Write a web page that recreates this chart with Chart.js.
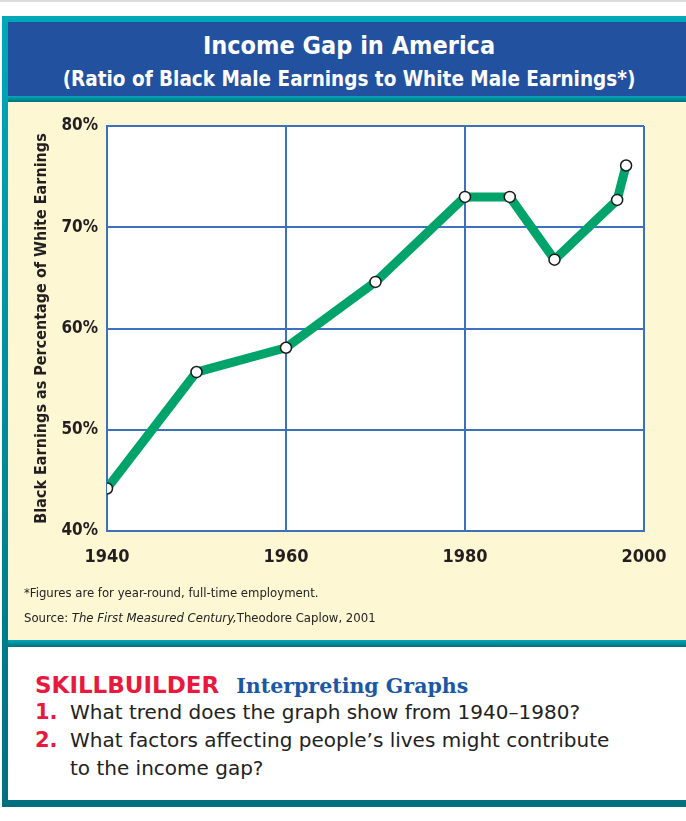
<!DOCTYPE html>
<html>
<head>
<meta charset="utf-8">
<script src="https://cdn.jsdelivr.net/npm/chart.js@4"></script>
<style>
  body { margin: 0; background: #fff; width: 686px; height: 821px; overflow: hidden; position: relative; }
  .cond { font-family: "Liberation Sans Narrow", "DejaVu Sans Condensed", "Arial Narrow", sans-serif; }
  .abs { position: absolute; }
  .teal { background: linear-gradient(#00a8b8, #00707e); }
  #topline { left: 0; top: 0; width: 686px; height: 2px; background: #dcdcdc; }
  #frame { left: 2px; top: 16px; width: 700px; height: 791px; }
  #band { left: 8px; top: 22px; width: 700px; height: 74px; background: #22519f; }
  #cream { left: 8px; top: 102px; width: 700px; height: 538px; background: #fdf7d4; }
  #white { left: 8px; top: 647px; width: 700px; height: 153px; background: #fff; }
  .title { color: #fff; font-weight: bold; text-align: center; width: 686px; left: 6px; white-space: nowrap; }
  .note { color: #222; font-size: 13px; left: 24px; white-space: nowrap; }
  .q { color: #222; font-size: 20px; white-space: nowrap; font-family: "DejaVu Sans", sans-serif; }
  .num { color: #e8193c; font-weight: bold; font-family: "DejaVu Sans", sans-serif; font-size: 21px; }
</style>
</head>
<body>
<div id="topline" class="abs"></div>
<div id="frame" class="abs teal"></div>
<div id="band" class="abs"></div>
<div class="abs teal" style="left:8px;top:96px;width:700px;height:6px"></div>
<div id="cream" class="abs"></div>
<div class="abs teal" style="left:8px;top:640px;width:700px;height:7px"></div>
<div id="white" class="abs"></div>

<div class="abs title cond" style="top:31px;font-size:25px;">Income Gap in America</div>
<div class="abs title cond" style="top:67px;font-size:20.5px;">(Ratio of Black Male Earnings to White Male Earnings*)</div>

<canvas id="incomeChart" class="abs" style="left:8px;top:102px" width="678" height="538"></canvas>

<div class="abs note cond" style="top:585px;">*Figures are for year-round, full-time employment.</div>
<div class="abs note cond" style="top:610px;">Source: <i>The First Measured Century,</i>Theodore Caplow, 2001</div>

<div class="abs" style="left:35px;top:672px;white-space:nowrap;">
  <span style="color:#e8193c;font-weight:bold;font-size:23px;font-family:'DejaVu Sans',sans-serif;">SKILLBUILDER</span><span style="color:#1a58a6;font-weight:bold;font-size:20.5px;font-family:'DejaVu Serif',serif;margin-left:17px;">Interpreting Graphs</span>
</div>
<div class="abs" style="left:35px;top:700px;"><span class="num">1.</span></div>
<div class="abs q" style="left:70px;top:700px;">What trend does the graph show from 1940–1980?</div>
<div class="abs" style="left:35px;top:728px;"><span class="num">2.</span></div>
<div class="abs q" style="left:70px;top:728px;">What factors affecting people’s lives might contribute</div>
<div class="abs q" style="left:70px;top:756px;">to the income gap?</div>

<script>
const years = [1940, 1950, 1960, 1970, 1980, 1985, 1990, 1997, 1998];
const ratio = [44.2, 55.7, 58.1, 64.6, 73.0, 73.0, 66.8, 72.7, 76.1];
const xTicks = [1940, 1960, 1980, 2000];
const yTicks = [40, 50, 60, 70, 80];

const condFont = '"Liberation Sans Narrow", "DejaVu Sans Condensed", "Arial Narrow", sans-serif';
const gridBlue = "#3c72bd";

// white plot area behind the grid
const plotBg = {
  id: "plotBg",
  beforeDraw(chart) {
    const a = chart.chartArea;
    chart.ctx.save();
    chart.ctx.fillStyle = "#fff";
    chart.ctx.fillRect(a.left, a.top, a.right - a.left, a.bottom - a.top);
    chart.ctx.restore();
  },
};

new Chart("incomeChart", {
  type: "line",
  data: {
    datasets: [
      {
        data: years.map((y, i) => ({ x: y, y: ratio[i] })),
        borderColor: "#00a46b",
        borderWidth: 9,
        borderJoinStyle: "round",
        pointRadius: 5.5,
        pointBackgroundColor: "#fff",
        pointBorderColor: "#1a1a1a",
        pointBorderWidth: 1.5,
        tension: 0,
      },
    ],
  },
  options: {
    responsive: false,
    devicePixelRatio: 1,
    animation: false,
    layout: { padding: { left: 0, top: 24, right: 42, bottom: 0 } },
    plugins: { legend: { display: false }, tooltip: { enabled: false } },
    scales: {
      x: {
        type: "linear",
        min: 1940,
        max: 2000,
        afterBuildTicks: (s) => { s.ticks = xTicks.map((v) => ({ value: v })); },
        afterFit: (s) => { s.height = 109; },
        grid: { color: gridBlue, lineWidth: 2, drawTicks: false },
        border: { color: gridBlue, width: 2 },
        ticks: {
          padding: 16,
          color: "#231f20",
          font: { family: condFont, size: 18, weight: "bold" },
          callback: (v) => String(v),
        },
      },
      y: {
        min: 40,
        max: 80,
        afterBuildTicks: (s) => { s.ticks = yTicks.map((v) => ({ value: v })); },
        afterFit: (s) => { s.width = 99; },
        grid: { color: gridBlue, lineWidth: 2, drawTicks: false },
        border: { color: gridBlue, width: 2 },
        ticks: {
          padding: 9,
          color: "#231f20",
          font: { family: condFont, size: 17, weight: "bold" },
          callback: (v) => v + "%",
        },
        title: {
          display: true,
          text: "Black Earnings as Percentage of White Earnings",
          color: "#231f20",
          font: { family: condFont, size: 16, weight: "bold" },
          padding: { top: 24, bottom: 0 },
        },
      },
    },
  },
  plugins: [plotBg],
});
</script>
</body>
</html>
